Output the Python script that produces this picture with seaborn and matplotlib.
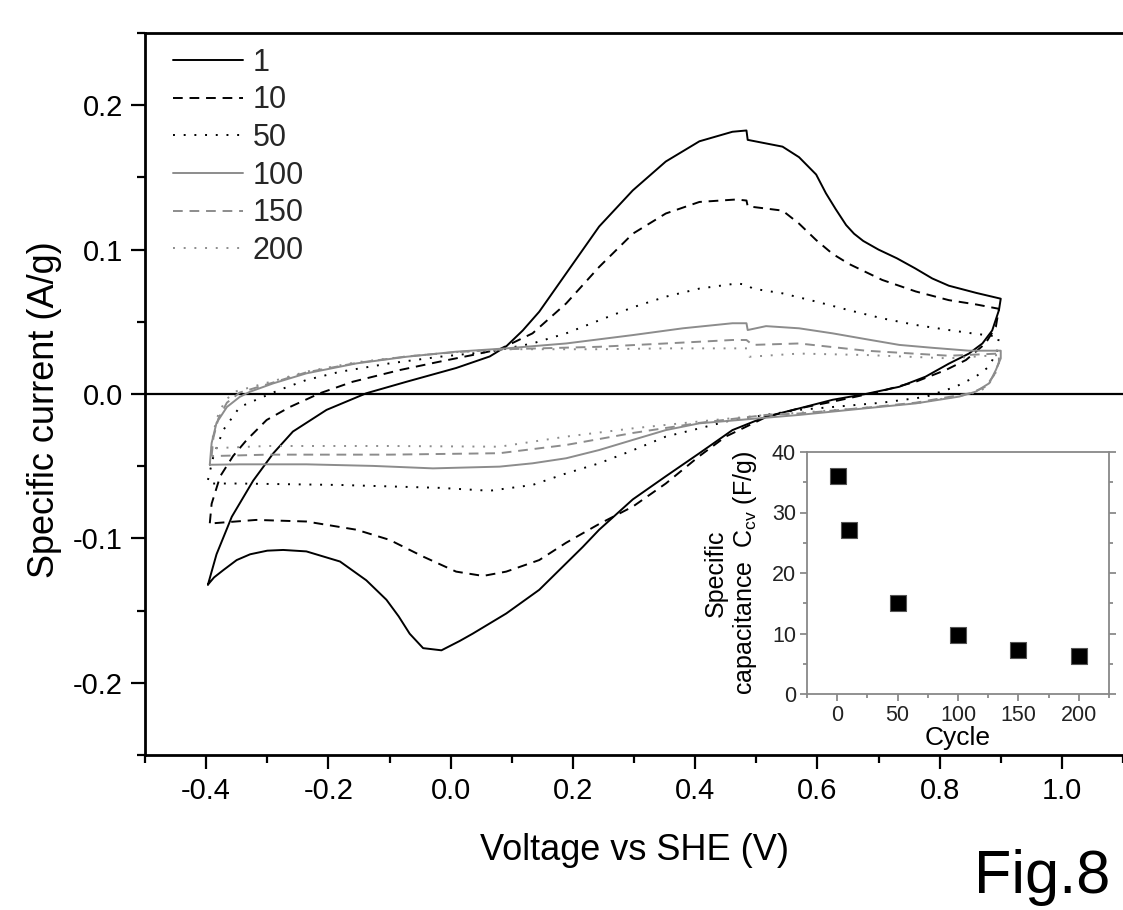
import numpy as np
import pandas as pd
import matplotlib
import matplotlib.pyplot as plt
import seaborn as sns
from matplotlib.ticker import MultipleLocator, FormatStrFormatter

matplotlib.use('Agg')

# cyclic voltammograms: anodic sweep then cathodic sweep
v_1 = [-0.397, -0.383, -0.358, -0.323, -0.290, -0.258, -0.203, -0.138, -0.072, 0.009, 0.064, 0.091, 0.118, 0.145,
       0.189, 0.243, 0.298, 0.352, 0.407, 0.461, 0.484, 0.486, 0.543, 0.570, 0.598, 0.614, 0.630, 0.647, 0.660,
       0.675, 0.700, 0.730, 0.760, 0.788, 0.815, 0.860, 0.900,
       0.897, 0.886, 0.870, 0.848, 0.815, 0.777, 0.734, 0.679, 0.625, 0.570, 0.516, 0.461, 0.407, 0.352, 0.298,
       0.243, 0.216, 0.180, 0.145, 0.091, 0.036, 0.015, -0.015, -0.045, -0.067, -0.085, -0.105, -0.138, -0.181,
       -0.236, -0.274, -0.300, -0.328, -0.350, -0.372, -0.387, -0.397]
i_1 = [-0.132, -0.111, -0.085, -0.060, -0.041, -0.026, -0.011, 0.0005, 0.0085, 0.018, 0.026, 0.033, 0.044, 0.057,
       0.0835, 0.116, 0.141, 0.161, 0.175, 0.1816, 0.1825, 0.176, 0.1713, 0.164, 0.152, 0.139, 0.128, 0.117, 0.111,
       0.106, 0.100, 0.094, 0.087, 0.080, 0.075, 0.070, 0.066,
       0.058, 0.044, 0.035, 0.028, 0.021, 0.012, 0.005, 0.0, -0.004, -0.010, -0.0157, -0.025, -0.041, -0.057, -0.073,
       -0.094, -0.106, -0.121, -0.1356, -0.152, -0.166, -0.171, -0.1775, -0.176, -0.166, -0.154, -0.1425, -0.129,
       -0.116, -0.109, -0.108, -0.1085, -0.111, -0.115, -0.122, -0.127, -0.132]

v_10 = [-0.394, -0.391, -0.377, -0.356, -0.334, -0.301, -0.263, -0.214, -0.160, -0.083, -0.018, 0.036, 0.080, 0.134,
        0.189, 0.243, 0.298, 0.352, 0.407, 0.467, 0.484, 0.486, 0.543, 0.570, 0.598, 0.625, 0.652, 0.706, 0.761,
        0.815, 0.860, 0.897,
        0.892, 0.875, 0.843, 0.810, 0.761, 0.701, 0.625, 0.570, 0.516, 0.450, 0.407, 0.352, 0.298, 0.243, 0.189,
        0.145, 0.091, 0.053, 0.009, -0.045, -0.100, -0.154, -0.236, -0.318, -0.388, -0.394]
i_10 = [-0.0895, -0.076, -0.057, -0.043, -0.032, -0.018, -0.009, 0.0005, 0.0085, 0.0166, 0.0224, 0.027, 0.031, 0.042,
        0.0627, 0.088, 0.111, 0.125, 0.133, 0.1347, 0.134, 0.130, 0.127, 0.118, 0.1066, 0.097, 0.090, 0.079, 0.071,
        0.065, 0.062, 0.059,
        0.0466, 0.035, 0.0235, 0.0166, 0.0085, 0.0016, -0.0053, -0.010, -0.016, -0.0295, -0.043, -0.062, -0.078,
        -0.090, -0.103, -0.115, -0.123, -0.126, -0.123, -0.1126, -0.101, -0.094, -0.0883, -0.0872, -0.0895, -0.0895]

v_50 = [-0.397, -0.388, -0.372, -0.345, -0.318, -0.279, -0.236, -0.181, -0.100, -0.018, 0.064, 0.134, 0.189, 0.243,
        0.298, 0.352, 0.407, 0.469, 0.485, 0.494, 0.543, 0.598, 0.652, 0.706, 0.761, 0.815, 0.853, 0.897,
        0.894, 0.881, 0.859, 0.826, 0.777, 0.706, 0.625, 0.570, 0.516, 0.461, 0.407, 0.352, 0.298, 0.243, 0.189,
        0.134, 0.064, -0.018, -0.181, -0.345, -0.394, -0.397]
i_50 = [-0.0595, -0.043, -0.025, -0.009, -0.004, 0.003, 0.0097, 0.0154, 0.0212, 0.0258, 0.0293, 0.035, 0.042, 0.051,
        0.060, 0.0674, 0.073, 0.0766, 0.0755, 0.073, 0.0697, 0.064, 0.058, 0.0524, 0.0478, 0.0443, 0.042, 0.0397,
        0.030, 0.019, 0.012, 0.005, -0.002, -0.006, -0.009, -0.011, -0.0145, -0.018, -0.0238, -0.0295, -0.039, -0.048,
        -0.055, -0.063, -0.067, -0.065, -0.063, -0.062, -0.062, -0.0595]

v_100 = [-0.394, -0.391, -0.383, -0.366, -0.345, -0.328, -0.290, -0.236, -0.154, -0.072, 0.009, 0.091, 0.189, 0.298,
         0.380, 0.461, 0.484, 0.486, 0.516, 0.570, 0.625, 0.679, 0.734, 0.788, 0.848, 0.900,
         0.900, 0.892, 0.881, 0.859, 0.832, 0.761, 0.679, 0.570, 0.407, 0.352, 0.298, 0.243, 0.189, 0.134, 0.080,
         -0.029, -0.127, -0.236, -0.345, -0.394]
i_100 = [-0.049, -0.034, -0.020, -0.009, -0.002, 0.0016, 0.0074, 0.0143, 0.0212, 0.0258, 0.0293, 0.0316, 0.035, 0.0408,
         0.0455, 0.049, 0.049, 0.0443, 0.047, 0.0455, 0.042, 0.038, 0.034, 0.032, 0.030, 0.030,
         0.0247, 0.0166, 0.0074, 0.0016, -0.0018, -0.0065, -0.0099, -0.0145, -0.0203, -0.025, -0.0318, -0.0388,
         -0.0445, -0.048, -0.0503, -0.0515, -0.0498, -0.0487, -0.0487, -0.049]

v_150 = [-0.391, -0.388, -0.380, -0.366, -0.345, -0.290, -0.236, -0.154, -0.072, 0.009, 0.091, 0.243, 0.352, 0.461,
         0.484, 0.494, 0.570, 0.679, 0.815, 0.897,
         0.897, 0.889, 0.875, 0.850, 0.761, 0.679, 0.570, 0.516, 0.407, 0.298, 0.189, 0.080, -0.100, -0.300, -0.391]
i_150 = [-0.043, -0.030, -0.017, -0.006, 0.001, 0.008, 0.015, 0.0215, 0.026, 0.029, 0.031, 0.0327, 0.035, 0.0374,
         0.0374, 0.034, 0.035, 0.030, 0.0265, 0.028,
         0.022, 0.013, 0.005, 0.0005, -0.006, -0.0095, -0.0135, -0.0145, -0.020, -0.027, -0.0353, -0.041, -0.042,
         -0.042, -0.043]

v_200 = [-0.391, -0.388, -0.380, -0.368, -0.350, -0.290, -0.236, -0.154, -0.072, 0.009, 0.091, 0.243, 0.352, 0.461,
         0.485, 0.489, 0.570, 0.679, 0.815, 0.897,
         0.897, 0.889, 0.875, 0.850, 0.761, 0.679, 0.570, 0.516, 0.407, 0.298, 0.189, 0.080, -0.100, -0.300, -0.391]
i_200 = [-0.0376, -0.026, -0.014, -0.004, 0.002, 0.009, 0.0155, 0.022, 0.026, 0.029, 0.031, 0.031, 0.0316, 0.0316,
         0.0316, 0.0258, 0.028, 0.027, 0.0247, 0.027,
         0.021, 0.012, 0.004, 0.0, -0.0065, -0.0095, -0.013, -0.0145, -0.019, -0.0238, -0.0295, -0.0365, -0.036,
         -0.036, -0.0376]

cycle_labels = ['1', '10', '50', '100', '150', '200']

# inset: specific capacitance vs cycle number
cycles = [1, 10, 50, 100, 150, 200]
capacitance = [36.0, 27.1, 15.1, 9.7, 7.2, 6.2]

sns.set_theme(style="ticks")
plt.rcParams['font.family'] = ['Liberation Sans', 'DejaVu Sans']
plt.rcParams['mathtext.fontset'] = 'custom'
plt.rcParams['mathtext.rm'] = 'Liberation Sans'
plt.rcParams['axes.unicode_minus'] = False

fig = plt.figure(figsize=(11.23, 9.10), dpi=100)
ax = fig.add_axes([145 / 1123, 1 - 755 / 910, 1 - 145 / 1123, (755 - 33) / 910])

black = '#000000'
grey = '#8c8c8c'
styles = [
    (black, '-'), (black, (0, (5, 3.5))), (black, (0, (1, 4.5))),
    (grey, '-'), (grey, (0, (5, 3.5))), (grey, (0, (1, 4.5))),
]
curves = [(v_1, i_1), (v_10, i_10), (v_50, i_50), (v_100, i_100), (v_150, i_150), (v_200, i_200)]

handles = []
for (v, cur), (col, ls), lab in zip(curves, styles, cycle_labels):
    df = pd.DataFrame({'V': v, 'I': cur})
    sns.lineplot(data=df, x='V', y='I', sort=False, estimator=None, ax=ax,
                 color=col, linestyle=ls, linewidth=1.4)
    ax.lines[-1].set_solid_joinstyle('round')
    handles.append((ax.lines[-1], lab))

ax.axhline(0, color='black', lw=1.6, zorder=1)

ax.set_xlim(-0.5, 1.1)
ax.set_ylim(-0.25, 0.25)
ax.xaxis.set_major_locator(MultipleLocator(0.2))
ax.xaxis.set_minor_locator(MultipleLocator(0.1))
ax.yaxis.set_major_locator(MultipleLocator(0.1))
ax.yaxis.set_minor_locator(MultipleLocator(0.05))
ax.xaxis.set_major_formatter(FormatStrFormatter('%.1f'))
ax.yaxis.set_major_formatter(FormatStrFormatter('%.1f'))
ax.set_xticks([-0.4, -0.2, 0.0, 0.2, 0.4, 0.6, 0.8, 1.0])
ax.tick_params(which='major', direction='out', length=10, width=1.6, labelsize=21, pad=6, color='black',
               labelcolor='black')
ax.tick_params(which='minor', direction='out', length=5.5, width=1.6, color='black')
for s in ['left', 'bottom', 'top']:
    ax.spines[s].set_linewidth(2)
    ax.spines[s].set_color('black')
ax.spines['right'].set_visible(False)

ax.set_xlabel('Voltage vs SHE (V)', fontsize=26, labelpad=20, color='black')
ax.set_ylabel('Specific current (A/g)', fontsize=26, color='black')
ax.yaxis.set_label_coords((62 - 145) / 978, (755 - 410) / 722)

leg = ax.legend([h for h, _ in handles], [l for _, l in handles], loc='upper left',
                bbox_to_anchor=(0.01, 1.005), frameon=False, fontsize=22, handlelength=2.3,
                handletextpad=0.3, labelspacing=0.25, borderaxespad=0.2)

# inset
ins = fig.add_axes([807 / 1123, 1 - 694 / 910, (1109 - 807) / 1123, (694 - 452) / 910])
sns.scatterplot(x=cycles, y=capacitance, marker='s', s=130, color='black', edgecolor='#555555',
                linewidth=0.8, ax=ins, zorder=3)
ins.set_xlim(-25, 225)
ins.set_ylim(0, 40)
ins.xaxis.set_major_locator(MultipleLocator(50))
ins.xaxis.set_minor_locator(MultipleLocator(25))
ins.yaxis.set_major_locator(MultipleLocator(10))
ins.yaxis.set_minor_locator(MultipleLocator(5))
ins.tick_params(which='both', direction='out', color='#808080', width=1.2, labelsize=15.5,
                labelcolor='#222222', pad=3, right=True)
ins.tick_params(which='major', length=5)
ins.tick_params(which='minor', length=3)
ins.tick_params(axis='y', which='both', right=True, direction='out')
for s in ins.spines.values():
    s.set_color('#888888')
    s.set_linewidth(1.3)
ins.set_xlabel('Cycle', fontsize=19, labelpad=0, color='black')
ins.set_ylabel('Specific\ncapacitance  C$_{\\mathregular{cv}}$ (F/g)', fontsize=18, labelpad=9,
               color='black', linespacing=1.15)

fig.text(1110 / 1123, 1 - 893 / 910, 'Fig.8', fontsize=44, ha='right', va='baseline', color='black')

fig.savefig('out.png', dpi=100)
